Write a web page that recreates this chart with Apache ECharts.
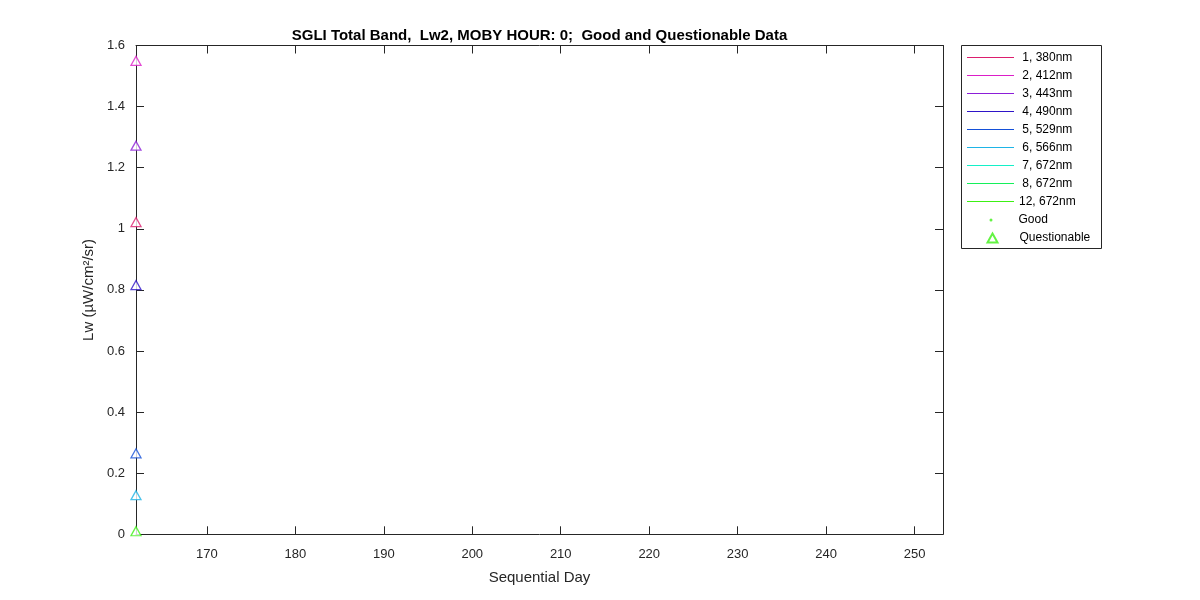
<!DOCTYPE html>
<html>
<head>
<meta charset="utf-8">
<script src="https://cdn.jsdelivr.net/npm/echarts@6/dist/echarts.min.js"></script>
<style>html,body{margin:0;padding:0;background:#fff;}#c{width:1200px;height:600px;}</style>
</head>
<body>
<div id="c"></div>
<script>
// ---- data ----
const bandNames = [' 1, 380nm', ' 2, 412nm', ' 3, 443nm', ' 4, 490nm', ' 5, 529nm', ' 6, 566nm', ' 7, 672nm', ' 8, 672nm', '12, 672nm'];
const bandColors = ['#dc1e6e', '#dc1ec8', '#8c1ed8', '#2e14c8', '#1450d8', '#1eb4e6', '#14f0c8', '#14f05a', '#3cf014'];
const questionableDays = [162, 162, 162, 162, 162, 162, 162];
const questionableValues = [1.55, 1.272, 1.022, 0.816, 0.265, 0.128, 0.01];
const questionableBand = [1, 2, 0, 3, 4, 5, 8];
const goodDays = [];
const goodValues = [];
const xTicks = [170, 180, 190, 200, 210, 220, 230, 240, 250];

const FONT = 'Liberation Sans, Arial, Helvetica, sans-serif';
const chart = echarts.init(document.getElementById('c'));

const lineSeries = bandNames.map((n, i) => ({
  name: n, type: 'line', data: [], symbol: 'none',
  itemStyle: { color: bandColors[i] }, lineStyle: { color: bandColors[i], width: 1 }
}));

const qData = questionableDays.map((d, i) => ({
  value: [d, questionableValues[i]],
  itemStyle: { borderColor: bandColors[questionableBand[i]] }
}));
const gData = goodDays.map((d, i) => [d, goodValues[i]]);

const axisLineStyle = { show: true, onZero: false, lineStyle: { color: '#262626', width: 1 } };
const tickStyle = { show: true, inside: true, length: 8, lineStyle: { color: '#262626' } };
const LINE_ICON = 'path://M0,0 L47,0 L47,1 L0,1 Z';

chart.setOption({
  animation: false,
  backgroundColor: '#fff',
  title: {
    text: 'SGLI Total Band,  Lw2, MOBY HOUR: 0;  Good and Questionable Data',
    left: 539.5, textAlign: 'center', top: 28, padding: 0,
    textStyle: { fontFamily: FONT, fontSize: 15, fontWeight: 'bold', color: '#000' }
  },
  grid: { left: 136, right: 257, top: 45.5, bottom: 65.7, containLabel: false },
  xAxis: [
    {
      type: 'value', min: 162, max: 253.2, position: 'bottom',
      axisLine: axisLineStyle, splitLine: { show: false },
      name: 'Sequential Day', nameLocation: 'middle', nameGap: 36,
      nameTextStyle: { fontFamily: FONT, fontSize: 15, color: '#262626' },
      axisTick: Object.assign({}, tickStyle, { customValues: xTicks }),
      axisLabel: { customValues: xTicks, fontFamily: FONT, fontSize: 13, color: '#262626', margin: 14 }
    },
    {
      type: 'value', min: 162, max: 253.2, position: 'top',
      axisLine: axisLineStyle, splitLine: { show: false },
      axisTick: Object.assign({}, tickStyle, { customValues: xTicks }),
      axisLabel: { show: false }
    }
  ],
  yAxis: [
    {
      type: 'value', min: 0, max: 1.6, interval: 0.2, position: 'left',
      axisLine: axisLineStyle, splitLine: { show: false }, axisTick: tickStyle,
      name: 'Lw (µW/cm²/sr)', nameLocation: 'middle', nameGap: 32,
      nameTextStyle: { fontFamily: FONT, fontSize: 15, color: '#262626' },
      axisLabel: { fontFamily: FONT, fontSize: 13, color: '#262626', margin: 11,
        formatter: v => String(Math.round(v * 10) / 10) }
    },
    {
      type: 'value', min: 0, max: 1.6, interval: 0.2, position: 'right',
      axisLine: axisLineStyle, splitLine: { show: false }, axisTick: tickStyle,
      axisLabel: { show: false }
    }
  ],
  legend: [
    {
      data: bandNames.map((n, i) => ({
        name: n, icon: LINE_ICON,
        itemStyle: { color: bandColors[i], borderColor: bandColors[i], borderWidth: 0 }
      })),
      orient: 'vertical', left: 967, top: 50.5, padding: 0,
      itemWidth: 47, itemHeight: 1, itemGap: 4, symbolKeepAspect: true,
      textStyle: { fontFamily: FONT, fontSize: 12, color: '#000', lineHeight: 14 },
      selectedMode: false
    },
    {
      data: [{ name: 'Good', icon: 'circle' }], orient: 'vertical', left: 989.5, top: 213, padding: 0,
      itemWidth: 3, itemHeight: 3,
      textStyle: { fontFamily: FONT, fontSize: 12, color: '#000', lineHeight: 14, padding: [0, 0, 0, 21] },
      selectedMode: false
    },
    {
      data: [{ name: 'Questionable', icon: 'triangle' }], orient: 'vertical', left: 986.5, top: 231, padding: 0,
      itemWidth: 10, itemHeight: 9,
      textStyle: { fontFamily: FONT, fontSize: 12, color: '#000', lineHeight: 14, padding: [0, 0, 0, 17] },
      selectedMode: false
    }
  ],
  graphic: [{
    type: 'rect', silent: true,
    shape: { x: 961.5, y: 45.5, width: 140, height: 203 },
    style: { fill: 'none', stroke: '#262626', lineWidth: 1 }
  }],
  series: lineSeries.concat([
    {
      name: 'Good', type: 'scatter', data: gData, symbol: 'circle', symbolSize: 3,
      itemStyle: { color: '#3cf014' }
    },
    {
      name: 'Questionable', type: 'scatter', data: qData, symbol: 'triangle', symbolSize: [10, 9],
      clip: false, z: 5,
      itemStyle: { color: '#ffffff', borderColor: '#3cf014', borderWidth: 1.3 }
    }
  ])
});
</script>
</body>
</html>
